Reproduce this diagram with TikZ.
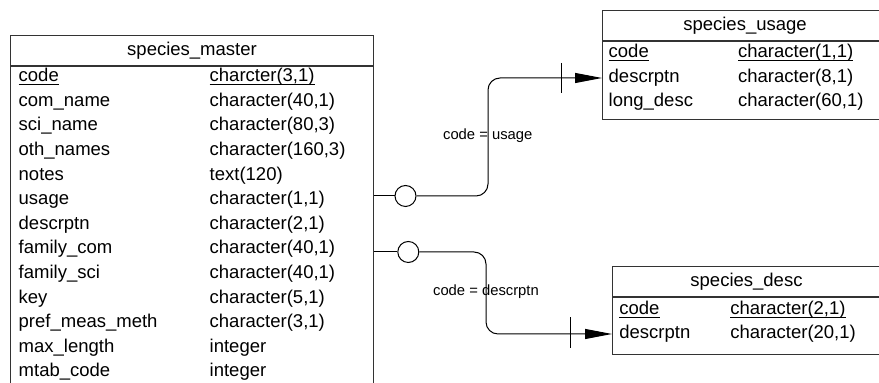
\documentclass[tikz,border=0pt]{standalone}
\usepackage{fontspec}
\setmainfont{Liberation Sans}
\usetikzlibrary{positioning, arrows.meta}
\tikzset{
tblhead/.style={draw=black!80, line width=0.5pt, anchor=north west, inner sep=0pt,
  minimum height=15pt, text height=6.8pt, text depth=2pt, font=\fontsize{9.25}{11}\selectfont},
tblbody/.style={draw=black!80, line width=0.5pt, inner sep=0pt},
fld/.style={anchor=base west, inner sep=0pt, font=\fontsize{9.25}{11}\selectfont},
link/.style={draw=black, line width=0.5pt},
ring/.style={circle, draw, fill=white, line width=0.5pt, minimum size=10.5pt, inner sep=0pt},
rel/.style={anchor=base west, inner sep=0pt, font=\fontsize{7.4}{9}\selectfont},
tip/.style={-{Triangle[length=13.5pt, width=5pt]}},
}
\newcommand{\pk}[1]{\setbox0=\hbox{#1}\rlap{\rule[-1.7pt]{\wd0}{0.65pt}}\box0}

\begin{document}
\begin{tikzpicture}[x=0.5pt, y=-0.5pt]
\useasboundingbox (0,0) rectangle (879,383);
\clip (0,0) rectangle (879,383);

% species_master
\node[tblhead, minimum width=181.5pt] (mhead) at (10,35) {species\_master};
\node[tblbody, below=0pt of mhead, minimum width=181.5pt, minimum height=182pt] (master) {};
\foreach \n/\t [count=\i] in {\pk{code}/\pk{charcter(3,1)}, com\_name/{character(40,1)},
    sci\_name/{character(80,3)}, oth\_names/{character(160,3)}, notes/{text(120)},
    usage/{character(1,1)}, descrptn/{character(2,1)}, family\_com/{character(40,1)},
    family\_sci/{character(40,1)}, key/{character(5,1)}, pref\_meas\_meth/{character(3,1)},
    max\_length/integer, mtab\_code/integer}
{
  \node[fld] (m\i) at (18.3,{81.7+24.6*(\i-1)}) {\n};
  \node[fld] (mt\i) at (209.3,{81.7+24.6*(\i-1)}) {\t};
}

% species_usage
\node[tblhead, minimum width=142.5pt] (uhead) at (602,10) {species\_usage};
\node[tblbody, below=0pt of uhead, minimum width=142.5pt, minimum height=39pt] (usage) {};
\foreach \n/\t [count=\i] in {\pk{code}/\pk{character(1,1)}, descrptn/{character(8,1)},
    long\_desc/{character(60,1)}}
{
  \node[fld] (u\i) at (608.3,{58+24.4*(\i-1)}) {\n};
  \node[fld] (ut\i) at (737.7,{58+24.4*(\i-1)}) {\t};
}

% species_desc
\node[tblhead, minimum width=134pt] (dhead) at (612,266) {species\_desc};
\node[tblbody, below=0pt of dhead, minimum width=134pt, minimum height=28.5pt] (desc) {};
\foreach \n/\t [count=\i] in {\pk{code}/\pk{character(2,1)}, descrptn/{character(20,1)}}
{
  \node[fld] (d\i) at (619,{314.5+24.2*(\i-1)}) {\n};
  \node[fld] (dt\i) at (730,{314.5+24.2*(\i-1)}) {\t};
}

% relationships
\node[ring] (c1) at (405.5,196) {};
\node[ring] (c2) at (408.3,252) {};
\coordinate (k1) at (488,78);
\coordinate (k2) at (486,334);
\coordinate (uin) at (usage.west |- k1);
\coordinate (din) at (desc.west |- k2);
\coordinate (t1) at (561.7,78);
\coordinate (t2) at (570,333);

\node[rel] (r1) at (442.7,139.3) {code = usage};
\node[rel] (r2) at (432.7,295.7) {code = descrptn};

\draw[link] (master.east |- c1) -- (c1);
\draw[link, tip, rounded corners=6pt] (c1) -| (k1) -- (uin);
\draw[link] ([yshift=7.5pt]t1) -- ([yshift=-7.5pt]t1);

\draw[link] (master.east |- c2) -- (c2);
\draw[link, tip, rounded corners=6pt] (c2) -| (k2) -- (din);
\draw[link] ([yshift=7.75pt]t2) -- ([yshift=-7.75pt]t2);
\end{tikzpicture}
\end{document}
